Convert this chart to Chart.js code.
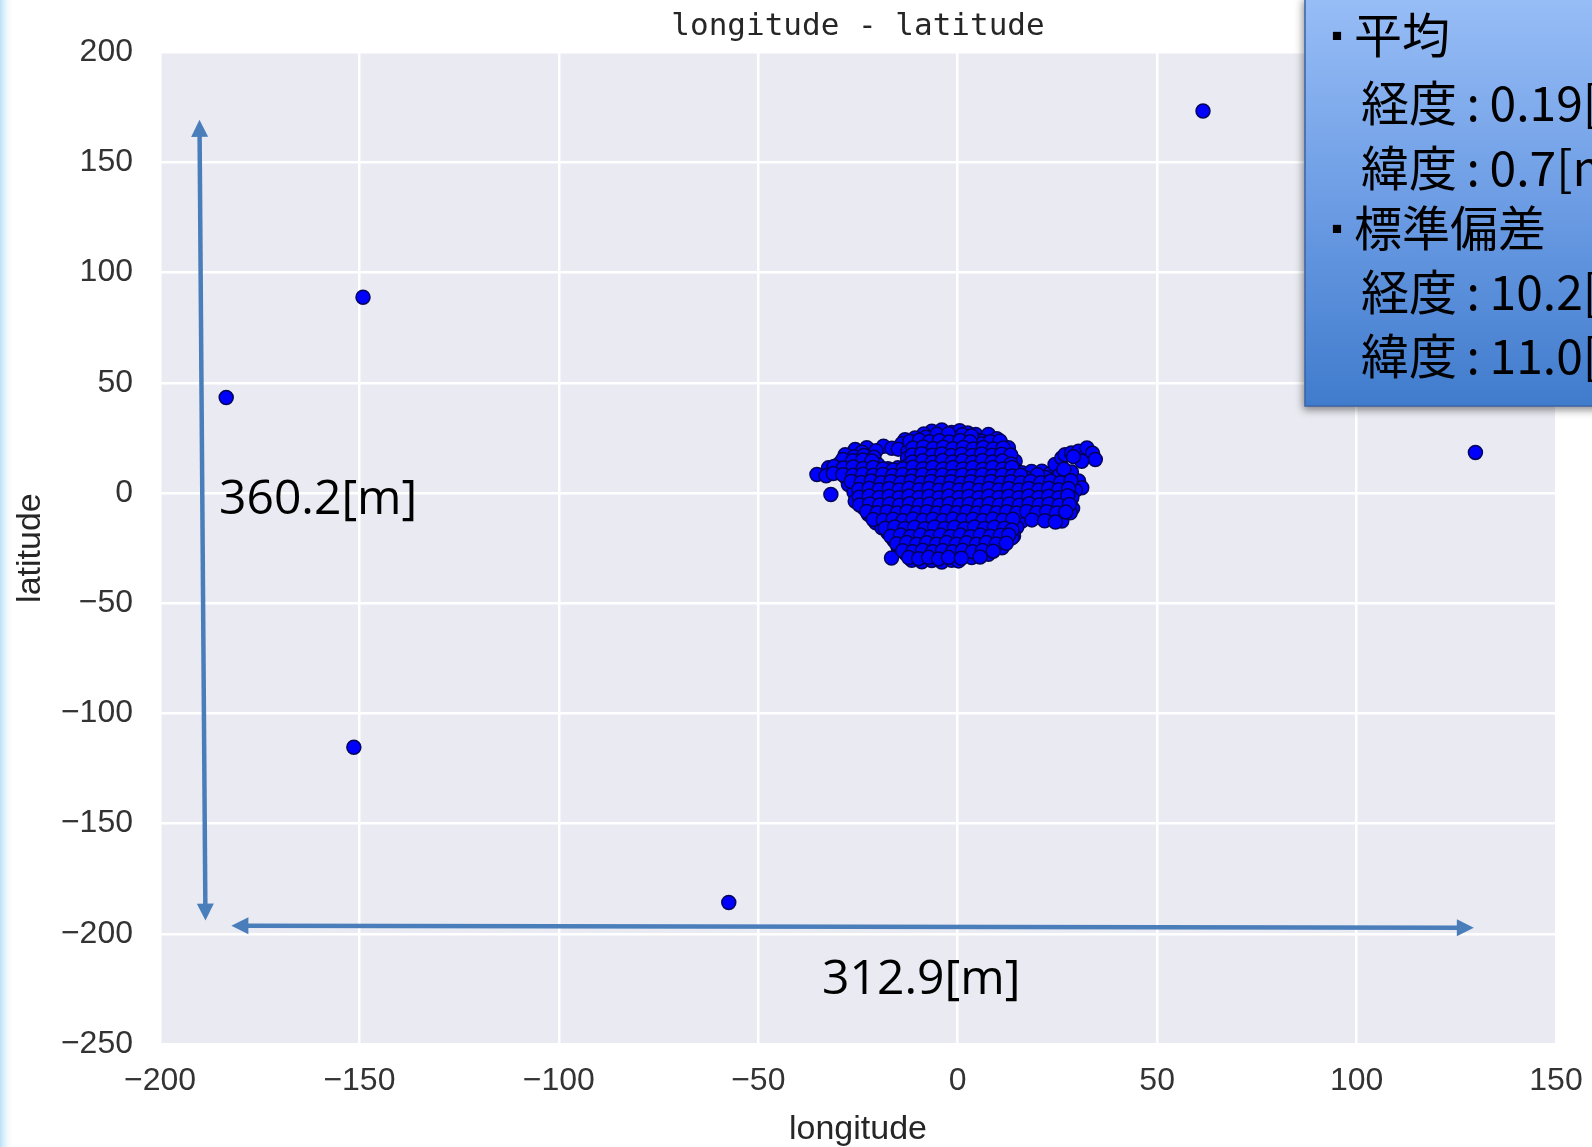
<!DOCTYPE html>
<html>
<head>
<meta charset="utf-8">
<script src="https://cdn.jsdelivr.net/npm/chart.js@4.4.1/dist/chart.umd.min.js"></script>
<style>
  html, body { margin: 0; padding: 0; background: #fff; }
  #wrap { width: 1592px; height: 1147px; }
</style>
</head>
<body>
<div id="wrap"><canvas id="scatterChart" width="1592" height="1147"></canvas></div>
<script>
(function () {
  // longitude / latitude offsets from the mean position [m]

  // isolated points far from the cluster
  const outlierPoints = [
    [61.5, 173.3], [-149.1, 88.8], [-183.4, 43.3], [129.8, 18.4],
    [-151.4, -115.4], [-57.4, -185.8],
  ];

  // the dense cluster around the origin, read row by row (lon, lat)
  const clusterPoints = [
    [-6.5, 28.0], [-4, 28.6], [-1.5, 27.5], [0.5, 28.3], [2.5, 27.2], [-8.5, 26.8], [4.5, 26.5],
    [-10.7, 25.0], [-13.2, 24.2], [-8, 25.3], [-5.5, 24.8], [-3, 25.6], [-0.5, 24.5], [2, 25.1],
    [4.5, 24.3], [7.7, 26.5], [9.8, 24.6], [6, 23.5],
    [-14, 22.3], [-11.5, 21.8], [-9, 22.5], [-6.5, 21.6], [-4, 22.4], [-1.5, 21.5], [1, 22.6],
    [3.5, 21.7], [6, 22.3], [8.5, 21.4], [11, 22.0],
    [-25.7, 19.7], [-22.8, 20.5], [-18.6, 21.2], [-20.5, 19.2], [-16.5, 20.3], [-14.9, 19.9], [-24, 18.5],
    [-12.5, 18.8], [-10, 19.5], [-7.5, 18.6], [-5, 19.4], [-2.5, 18.5], [0, 19.3], [2.5, 18.4],
    [5, 19.2], [7.5, 18.5], [10, 19.1], [12.7, 20.5],
    [-28.2, 17.4], [-26, 16.5], [-23.5, 17.0], [-21, 16.2],
    [-12.6, 15.8], [-10.5, 16.4], [-8, 15.6], [-5.5, 16.3], [-3, 15.5], [-0.5, 16.2], [2, 15.4],
    [4.5, 16.1], [7, 15.3], [9.5, 16.0], [12, 15.5], [14.4, 14.4],
    [-29.9, 12.9], [-27.5, 13.5], [-25, 12.6], [-22.5, 13.4], [-20, 12.8], [-17.5, 11.0], [-15, 11.4],
    [-12.5, 12.4], [-10, 13.2], [-7.5, 12.5], [-5, 13.1], [-2.5, 12.4], [0, 13.2], [2.5, 12.3],
    [5, 13.0], [7.5, 12.4], [10, 13.1], [12.5, 12.2],
    [-32.4, 11.4], [-30, 10.2], [-27.4, 9.8], [-25, 10.5], [-22.5, 9.7], [-20, 10.4], [-17.5, 8.6],
    [-15, 9.3], [-12.5, 9.5], [-10, 10.2], [-7.5, 9.4], [-5, 10.1], [-2.5, 9.3], [0, 10.0],
    [2.5, 9.2], [5, 10.0], [7.5, 9.3], [10, 10.1], [12.5, 9.4], [14.5, 10.5], [16.1, 9.2],
    [18.5, 9.8], [21.1, 9.9], [23.2, 8.8], [24.4, 12.9],
    [-35.3, 8.4], [-33, 7.8],
    [-28, 7.0], [-25.5, 6.4], [-23, 7.2], [-20.5, 6.5], [-18, 7.1], [-15.5, 6.3], [-13, 7.0],
    [-10.5, 6.2], [-8, 6.9], [-5.5, 6.1], [-3, 6.8], [-0.5, 6.0], [2, 6.8], [4.5, 6.1], [7, 6.9],
    [9.5, 6.2], [12, 6.8], [14.5, 6.2], [17, 6.9], [19.5, 6.3], [22, 7.0], [24.5, 6.4], [27, 7.0],
    [30.3, 5.4], [28.5, 9.5],
    [-27.4, 3.9], [-25, 3.2], [-22.5, 4.0], [-20, 3.3], [-17.5, 3.9], [-15, 3.1], [-12.5, 3.8],
    [-10, 3.0], [-7.5, 3.7], [-5, 2.9], [-2.5, 3.6], [0, 2.8], [2.5, 3.5], [5, 2.8], [7.5, 3.6],
    [10, 2.9], [12.5, 3.7], [15, 3.0], [17.5, 3.8], [20, 3.1], [22.5, 3.7], [25, 3.0], [27.5, 3.8],
    [31.1, 2.4], [29.5, 1.2],
    [-31.8, -0.7], [-26, 0.3], [-23.5, -0.4], [-21, 0.4], [-18.5, -0.3], [-16, 0.5], [-13.5, -0.2],
    [-11, 0.4], [-8.5, -0.4], [-6, 0.3], [-3.5, -0.5], [-1, 0.2], [1.5, -0.3], [4, 0.4], [6.5, -0.4],
    [9, 0.3], [11.5, -0.3], [14, 0.5], [16.5, -0.2], [19, 0.4], [21.5, -0.3], [24, 0.5], [26.5, -0.2],
    [28.6, -2.2],
    [-25.7, -3.7], [-23, -3.0], [-20.5, -3.8], [-18, -3.1], [-15.5, -3.9], [-13, -3.2], [-10.5, -3.8],
    [-8, -3.0], [-5.5, -3.7], [-3, -3.1], [-0.5, -3.9], [2, -3.2], [4.5, -3.8], [7, -3.0], [9.5, -3.7],
    [12, -3.1], [14.5, -3.8], [17, -3.2], [19.5, -3.9], [22, -3.3], [24.5, -4.0], [27, -3.5],
    [-23.5, -6.8], [-21, -7.4], [-18.5, -6.7], [-16, -7.3], [-13.5, -6.6], [-11, -7.2], [-8.5, -6.5],
    [-6, -7.3], [-3.5, -6.6], [-1, -7.2], [1.5, -6.5], [4, -7.3], [6.5, -6.6], [9, -7.2], [11.5, -6.5],
    [14, -7.3], [16.5, -6.7], [19, -7.3], [21.5, -6.6], [24, -7.2], [26.5, -6.5], [28.8, -7.0],
    [-22.4, -9.7], [-20, -10.6], [-17.5, -10.0], [-15, -10.8], [-12.5, -10.1], [-10, -10.7],
    [-7.5, -10.0], [-5, -10.8], [-2.5, -10.1], [0, -10.7], [2.5, -10.0], [5, -10.8], [7.5, -10.1],
    [10, -10.6], [12.5, -10.0], [15, -10.5], [17.5, -10.2], [20.3, -10.5], [23.6, -11.3],
    [26.1, -12.7], [28.2, -9.0], [16.1, -12.7],
    [-20.5, -13.5], [-19, -15.8], [-17, -14.2], [-14.5, -13.6], [-12, -14.3], [-9.5, -13.5],
    [-7, -14.2], [-4.5, -13.6], [-2, -14.3], [0.5, -13.5], [3, -14.2], [5.5, -13.6], [8, -14.3],
    [10.5, -13.5], [13, -14.1], [14.8, -15.5],
    [-17.5, -18.0], [-15, -17.3], [-12.5, -18.1], [-10, -17.4], [-7.5, -18.2], [-5, -17.3],
    [-2.5, -18.0], [0, -17.4], [2.5, -18.1], [5, -17.3], [7.5, -18.0], [10, -17.4], [12.5, -18.1],
    [14, -19.5],
    [-16, -21.5], [-13.5, -20.8], [-11, -21.6], [-8.5, -20.9], [-6, -21.5], [-3.5, -20.8],
    [-1, -21.6], [1.5, -20.9], [4, -21.5], [6.5, -20.8], [9, -21.4], [11.5, -21.0], [13.6, -20.3],
    [-14.9, -24.8], [-12.5, -24.2], [-10, -24.9], [-7.5, -24.1], [-5, -24.8], [-2.5, -24.2],
    [0, -24.9], [2.5, -24.1], [5, -24.8], [7.5, -24.2], [10, -24.7], [11.1, -24.8],
    [-16.6, -29.5], [-13, -27.6], [-10.5, -28.3], [-8, -27.5], [-5.5, -28.2], [-3, -27.6],
    [-0.5, -28.3], [2, -27.5], [4.5, -28.1], [7.7, -27.8],
    [-11.5, -30.5], [-9, -31.2], [-6.5, -30.6], [-4, -31.3], [-1.5, -30.5], [0.2, -30.8], [3.5, -29.3],
    [26.1, 15.9], [26.9, 17.4], [28.5, 18.2], [30.3, 18.9], [32.4, 20.4], [33.8, 18.0],
    [34.5, 15.2], [31.1, 14.4], [29, 16.5],
    // in-between readings that fill the dense core
    [-5.2, 26.6], [-2.3, 26.9], [1.2, 26.4], [3.4, 25.9],
    [-12, 23.4], [-9.6, 23.9], [-7.1, 23.2], [-4.6, 23.7], [-2.1, 23.1], [0.6, 23.8], [3.1, 23.2],
    [8.2, 23.3], [10.6, 23.6],
    [-11.2, 20.4], [-8.6, 20.9], [-6.1, 20.2], [-3.6, 20.8], [-1.2, 20.1], [1.4, 20.7], [3.9, 20.0],
    [6.4, 20.6], [8.9, 20.0], [11.4, 20.4],
    [-11.4, 17.2], [-9, 17.8], [-6.4, 17.1], [-4, 17.7], [-1.6, 17.0], [1, 17.6], [3.6, 17.0],
    [6, 17.7], [8.6, 17.1], [11, 17.6], [13.3, 17.2],
    [-28.8, 15.2], [-26.3, 14.6], [-23.8, 15.0], [-21.5, 14.5], [-11.3, 14.1], [-8.8, 14.6],
    [-6.3, 14.0], [-3.8, 14.7], [-1.3, 14.1], [1.2, 14.6], [3.7, 14.0], [6.2, 14.7], [8.7, 14.1],
    [11.2, 14.5], [13.4, 13.2],
    [-31, 12], [-28.7, 11.3], [-26.2, 11.8], [-23.7, 11.1], [-21.2, 11.6], [-18.7, 10.9],
    [-16.2, 10.4], [-13.7, 11.0], [-11.2, 11.7], [-8.7, 11.0], [-6.2, 11.6], [-3.7, 10.9],
    [-1.2, 11.6], [1.3, 10.9], [3.8, 11.5], [6.3, 10.8], [8.8, 11.6], [11.3, 10.9], [13.6, 11.6],
    [-31.2, 8.8], [-28.8, 8.3], [-26.3, 8.0], [-23.8, 8.5], [-21.2, 8.0], [-18.8, 8.4], [-16.3, 7.9],
    [-13.8, 8.4], [-11.3, 7.8], [-8.8, 8.3], [-6.3, 7.7], [-3.8, 8.2], [-1.3, 7.6], [1.2, 8.2],
    [3.7, 7.7], [6.2, 8.3], [8.7, 7.7], [11.2, 8.2], [13.7, 7.7], [15.8, 8.0], [20, 8.3],
    [25.6, 8.2], [26.6, 10.8],
    [-26.7, 5.2], [-24.2, 4.8], [-21.7, 5.4], [-19.2, 4.7], [-16.7, 5.2], [-14.2, 4.6], [-11.7, 5.3],
    [-9.2, 4.5], [-6.7, 5.2], [-4.2, 4.5], [-1.7, 5.1], [0.8, 4.4], [3.3, 5.1], [5.8, 4.5], [8.3, 5.2],
    [10.8, 4.5], [13.3, 5.1], [15.8, 4.6], [18.3, 5.2], [20.8, 4.6], [23.3, 5.3], [25.8, 4.7],
    [28.4, 5.6],
    [-24.8, 1.6], [-22.2, 2.1], [-19.7, 1.5], [-17.2, 2.0], [-14.7, 1.4], [-12.2, 2.1], [-9.7, 1.5],
    [-7.2, 2.0], [-4.7, 1.3], [-2.2, 2.0], [0.3, 1.4], [2.8, 2.0], [5.3, 1.3], [7.8, 2.0], [10.3, 1.4],
    [12.8, 2.0], [15.3, 1.4], [17.8, 2.0], [20.3, 1.4], [22.8, 2.1], [25.3, 1.5], [27.8, 2.0],
    [-24.7, -1.9], [-22.2, -1.4], [-19.7, -2.0], [-17.2, -1.5], [-14.7, -2.1], [-12.2, -1.4],
    [-9.7, -2.0], [-7.2, -1.5], [-4.7, -2.1], [-2.2, -1.4], [0.3, -2.0], [2.8, -1.5], [5.3, -2.1],
    [7.8, -1.4], [10.3, -2.0], [12.8, -1.5], [15.3, -2.1], [17.8, -1.4], [20.3, -2.0], [22.8, -1.5],
    [25.3, -2.1], [27.6, -1.2],
    [-24.6, -5.4], [-22.1, -5.0], [-19.6, -5.5], [-17.1, -5.0], [-14.6, -5.6], [-12.1, -4.9],
    [-9.6, -5.5], [-7.1, -5.0], [-4.6, -5.6], [-2.1, -4.9], [0.4, -5.5], [2.9, -5.0], [5.4, -5.6],
    [7.9, -4.9], [10.4, -5.5], [12.9, -5.0], [15.4, -5.6], [17.9, -4.9], [20.4, -5.5], [22.9, -5.0],
    [25.4, -5.6], [28, -5.2],
    [-22.8, -8.4], [-20.2, -9.0], [-17.7, -8.5], [-15.2, -9.1], [-12.7, -8.4], [-10.2, -9.0],
    [-7.7, -8.5], [-5.2, -9.1], [-2.7, -8.4], [-0.2, -9.0], [2.3, -8.5], [4.8, -9.1], [7.3, -8.4],
    [9.8, -9.0], [12.3, -8.5], [14.8, -9.1], [17.3, -8.4], [19.8, -9.0], [22.3, -8.5], [24.8, -9.1],
    [27.1, -8.6],
    [-21.2, -12.0], [-18.7, -12.4], [-16.2, -11.9], [-13.7, -12.5], [-11.2, -11.8], [-8.7, -12.4],
    [-6.2, -11.9], [-3.7, -12.5], [-1.2, -11.8], [1.3, -12.4], [3.8, -11.9], [6.3, -12.5],
    [8.8, -11.8], [11.3, -12.4], [13.8, -11.9], [18.6, -12.2], [21.8, -12.6], [24.5, -13.2],
    [-18.2, -16.0], [-15.8, -15.4], [-13.3, -16.1], [-10.8, -15.5], [-8.3, -16.2], [-5.8, -15.4],
    [-3.3, -16.1], [-0.8, -15.5], [1.7, -16.2], [4.2, -15.4], [6.7, -16.1], [9.2, -15.5],
    [11.7, -16.0], [13.6, -16.8],
    [-16.8, -19.6], [-14.3, -19.0], [-11.8, -19.7], [-9.3, -19.1], [-6.8, -19.8], [-4.3, -19.0],
    [-1.8, -19.7], [0.7, -19.1], [3.2, -19.8], [5.7, -19.0], [8.2, -19.6], [10.7, -19.2], [12.8, -19.0],
    [-15.3, -23.0], [-12.8, -22.5], [-10.3, -23.2], [-7.8, -22.6], [-5.3, -23.3], [-2.8, -22.5],
    [-0.3, -23.2], [2.2, -22.6], [4.7, -23.3], [7.2, -22.5], [9.7, -23.1], [12.2, -22.8],
    [-13.8, -26.2], [-11.3, -26.6], [-8.8, -26.0], [-6.3, -26.7], [-3.8, -26.1], [-1.3, -26.7],
    [1.2, -26.0], [3.7, -26.6], [6.2, -26.1], [8.9, -26.4],
    [-12.3, -29.3], [-9.8, -29.8], [-7.3, -29.2], [-4.8, -29.9], [-2.3, -29.2], [0.9, -29.6], [5.6, -29.0],
  ];

  const xTickValues = [-200, -150, -100, -50, 0, 50, 100, 150];
  const yTickValues = [-250, -200, -150, -100, -50, 0, 50, 100, 150, 200];

  // span arrows drawn over the plot (data units)
  const spanLabels = ['360.2[m]', '312.9[m]'];
  const spanArrowLon = [[-190.1, -188.6], [-182.1, 129.4]];
  const spanArrowLat = [[169.3, -194.0], [-196.3, -197.3]];
  const spanLabelLon = [-185.2, -34.0];
  const spanLabelLat = [-3.4, -221.0];

  // summary box text
  const statHeaders = ['平均', '標準偏差'];
  const statLines = [
    ['経度\u2009:\u20090.19[m]', '緯度\u2009:\u20090.7[m]'],
    ['経度\u2009:\u200910.2[m]', '緯度\u2009:\u200911.0[m]'],
  ];

  const toXY = (p) => ({ x: p[0], y: p[1] });
  const minus = (v) => String(v).replace('-', '\u2212');

  const tickFont = { family: '"Liberation Sans Narrow", "Liberation Sans", Arial, sans-serif', size: 32 };
  const titleFont = { family: '"Liberation Sans Narrow", "Liberation Sans", Arial, sans-serif', size: 34, lineHeight: 1.0 };

  const plotBackground = {
    id: 'plotBackground',
    beforeDraw(chart) {
      const { ctx, chartArea: a, width, height } = chart;
      ctx.save();
      ctx.fillStyle = '#ffffff';
      ctx.fillRect(0, 0, width, height);
      // slide edge on the left
      const g = ctx.createLinearGradient(0, 0, 14, 0);
      g.addColorStop(0, '#b9e0f7');
      g.addColorStop(1, 'rgba(255,255,255,0)');
      ctx.fillStyle = g;
      ctx.fillRect(0, 0, 14, height);
      ctx.fillStyle = '#eaeaf2';
      ctx.fillRect(a.left, a.top, a.right - a.left, a.bottom - a.top);
      ctx.restore();
    },
  };

  function arrowHead(ctx, x1, y1, x2, y2) {
    const ang = Math.atan2(y2 - y1, x2 - x1);
    const len = 17;
    const half = 8.5;
    ctx.beginPath();
    ctx.moveTo(x2, y2);
    ctx.lineTo(x2 - len * Math.cos(ang) + half * Math.sin(ang), y2 - len * Math.sin(ang) - half * Math.cos(ang));
    ctx.lineTo(x2 - len * Math.cos(ang) - half * Math.sin(ang), y2 - len * Math.sin(ang) + half * Math.cos(ang));
    ctx.closePath();
    ctx.fill();
  }

  const spanArrows = {
    id: 'spanArrows',
    afterDatasetsDraw(chart) {
      const { ctx, scales: { x, y } } = chart;
      ctx.save();
      ctx.strokeStyle = '#4a7ebb';
      ctx.fillStyle = '#4a7ebb';
      ctx.lineWidth = 4.5;
      spanArrowLon.forEach((lons, i) => {
        const x1 = x.getPixelForValue(lons[0]);
        const y1 = y.getPixelForValue(spanArrowLat[i][0]);
        const x2 = x.getPixelForValue(lons[1]);
        const y2 = y.getPixelForValue(spanArrowLat[i][1]);
        const d = Math.hypot(x2 - x1, y2 - y1);
        const ux = (x2 - x1) / d;
        const uy = (y2 - y1) / d;
        ctx.beginPath();
        ctx.moveTo(x1 + ux * 14, y1 + uy * 14);
        ctx.lineTo(x2 - ux * 14, y2 - uy * 14);
        ctx.stroke();
        arrowHead(ctx, x1, y1, x2, y2);
        arrowHead(ctx, x2, y2, x1, y1);
      });
      ctx.fillStyle = '#000000';
      ctx.font = '48px "Open Sans", "Noto Sans", sans-serif';
      ctx.textBaseline = 'middle';
      ctx.textAlign = 'left';
      spanLabels.forEach((t, i) => {
        ctx.fillText(t, x.getPixelForValue(spanLabelLon[i]), y.getPixelForValue(spanLabelLat[i]));
      });
      ctx.restore();
    },
  };

  const statBox = {
    id: 'statBox',
    afterDraw(chart) {
      const { ctx, width } = chart;
      const bx = 1305;
      const by = -4;
      const bw = width - bx + 10;
      const bh = 410;
      ctx.save();
      ctx.shadowColor = 'rgba(0,0,0,0.45)';
      ctx.shadowBlur = 8;
      ctx.shadowOffsetX = -2;
      ctx.shadowOffsetY = 4;
      const g = ctx.createLinearGradient(0, 0, 0, bh);
      g.addColorStop(0, '#97bdf6');
      g.addColorStop(0.5, '#6c9ce4');
      g.addColorStop(1, '#3f7bcc');
      ctx.fillStyle = g;
      ctx.fillRect(bx, by, bw, bh);
      ctx.shadowColor = 'transparent';
      ctx.strokeStyle = '#3a64a8';
      ctx.lineWidth = 1.5;
      ctx.strokeRect(bx, by, bw, bh);

      ctx.fillStyle = '#000000';
      ctx.textBaseline = 'middle';
      ctx.textAlign = 'left';
      const rowY = [35, 103, 168, 228, 292, 356];
      let r = 0;
      statHeaders.forEach((h, i) => {
        ctx.font = '30px "Noto Sans CJK JP", sans-serif';
        ctx.textAlign = 'center';
        ctx.fillText('▪', 1337, rowY[r] + 1);
        ctx.textAlign = 'left';
        ctx.font = '48px "Noto Sans CJK JP", sans-serif';
        ctx.fillText(h, 1354, rowY[r]);
        r++;
        statLines[i].forEach((t) => {
          ctx.fillText(t, 1361, rowY[r]);
          r++;
        });
      });
      ctx.restore();
    },
  };

  new Chart(document.getElementById('scatterChart').getContext('2d'), {
    type: 'scatter',
    data: {
      datasets: [
        {
          label: 'position',
          data: outlierPoints.concat(clusterPoints).map(toXY),
          pointRadius: 7,
          pointHoverRadius: 7,
          backgroundColor: '#0000ff',
          borderColor: 'rgba(0, 0, 80, 0.95)',
          borderWidth: 1.5,
        },
      ],
    },
    options: {
      responsive: false,
      devicePixelRatio: 1,
      animation: false,
      layout: { padding: { left: 0, right: 36, top: 0, bottom: 0 } },
      plugins: {
        legend: { display: false },
        tooltip: { enabled: false },
        title: {
          display: true,
          text: 'longitude - latitude',
          fullSize: false,
          color: '#262626',
          font: { family: '"DejaVu Sans Mono", monospace', size: 31, weight: 'normal', lineHeight: 1.2 },
          padding: { top: 8, bottom: 7 },
        },
      },
      scales: {
        x: {
          type: 'linear',
          min: xTickValues[0],
          max: xTickValues[xTickValues.length - 1],
          afterBuildTicks: (s) => { s.ticks = xTickValues.map((v) => ({ value: v })); },
          afterFit: (s) => { s.height = 103; s.paddingLeft = 0; s.paddingRight = 0; },
          grid: { color: '#ffffff', lineWidth: 2.5, drawTicks: false },
          border: { display: false },
          ticks: { color: '#333333', font: tickFont, padding: 18, maxRotation: 0, callback: (v) => minus(v) },
          title: { display: true, text: 'longitude', color: '#262626', font: titleFont, padding: { top: 0, bottom: 0 } },
        },
        y: {
          type: 'linear',
          min: yTickValues[0],
          max: yTickValues[yTickValues.length - 1],
          afterBuildTicks: (s) => { s.ticks = yTickValues.map((v) => ({ value: v })); },
          afterFit: (s) => { s.width = 160; },
          grid: { color: '#ffffff', lineWidth: 2.5, drawTicks: false },
          border: { display: false },
          ticks: { color: '#333333', font: tickFont, padding: 27, callback: (v) => minus(v) },
          title: { display: true, text: 'latitude', color: '#262626', font: titleFont, padding: { top: 14, bottom: 0 } },
        },
      },
    },
    plugins: [plotBackground, spanArrows, statBox],
  });
})();
</script>
</body>
</html>
